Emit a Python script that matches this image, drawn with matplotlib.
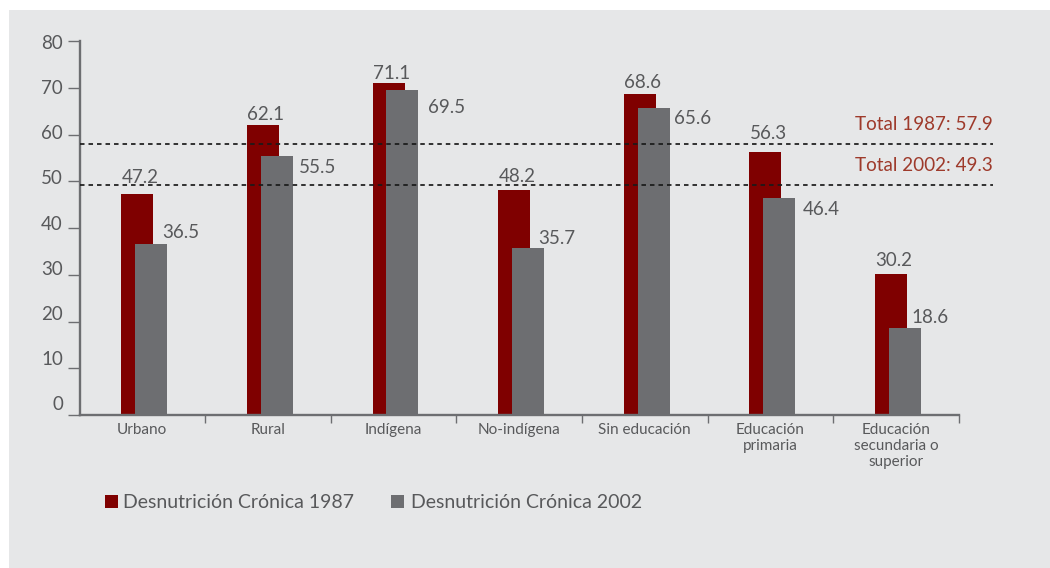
import matplotlib
matplotlib.use("Agg")
import matplotlib.pyplot as plt
from matplotlib.patches import Rectangle
import numpy as np

categories = ["Urbano", "Rural", "Indígena", "No-indígena", "Sin educación",
              "Educación\nprimaria", "Educación\nsecundaria o\nsuperior"]
series_names = ["Desnutrición Crónica 1987", "Desnutrición Crónica 2002"]
values_1987 = [47.2, 62.1, 71.1, 48.2, 68.6, 56.3, 30.2]
values_2002 = [36.5, 55.5, 69.5, 35.7, 65.6, 46.4, 18.6]
total_1987 = 57.9
total_2002 = 49.3
total_labels = ["Total 1987: 57.9", "Total 2002: 49.3"]
y_ticks = [0, 10, 20, 30, 40, 50, 60, 70, 80]

# label placement tweaks (pixels)
red_label_dy = [11.3, 4.3, 3.3, 7.3, 6.3, 12.3, 8.3]
gray_label_dy = [6.3, -17.7, -22.7, 4.3, -15.7, -16.7, 5.3]
gray_label_dx = [-5, 6, 10, -6, 4, 7, -10]

W, H = 1050, 568
DPI = 100
PX = 72.0 / DPI  # points per pixel

plt.rcParams['font.family'] = ['Lato', 'DejaVu Sans']
TEXT = '#58595b'
RED = '#7f0000'
GRAY = '#6d6e71'
BG = '#e6e7e8'
AXC = '#6d6e71'
TOTC = '#9e3a2b'

fig = plt.figure(figsize=(W / DPI, H / DPI), dpi=DPI, facecolor='white')
fig.add_artist(Rectangle((9 / W, 0), 1, 1 - 10 / H, transform=fig.transFigure,
                         facecolor=BG, edgecolor='none', zorder=-10))

ax_left, ax_right = 79.5, 994.0
ax_bottom, ax_top = 415.0, 41.0
ax = fig.add_axes([ax_left / W, (H - ax_bottom) / H,
                   (ax_right - ax_left) / W, (ax_bottom - ax_top) / H])
ax.set_facecolor('none')
ax.set_xlim(-0.5, 6.78)
ax.set_ylim(0, 80)

x = np.arange(len(categories))
bw = 0.255
red_off, gray_off = -0.04, 0.071
bars_r = ax.bar(x + red_off, values_1987, width=bw, color=RED, zorder=2)
bars_g = ax.bar(x + gray_off, values_2002, width=bw, color=GRAY, zorder=3)

# value labels
for i, (b, v) in enumerate(zip(bars_r, values_1987)):
    ax.annotate(f"{v:.1f}", xy=(b.get_x(), v), xytext=(0.5 * PX, red_label_dy[i] * PX),
                textcoords='offset points', ha='left', va='baseline',
                fontsize=13.5, color=TEXT, zorder=5)
for i, (b, v) in enumerate(zip(bars_g, values_2002)):
    ax.annotate(f"{v:.1f}", xy=(b.get_x() + b.get_width(), v),
                xytext=(gray_label_dx[i] * PX, gray_label_dy[i] * PX),
                textcoords='offset points', ha='left', va='baseline',
                fontsize=13.5, color=TEXT, zorder=5)

# total lines
x_end = 6.773
for tv, tl in zip([total_1987, total_2002], total_labels):
    ax.plot([-0.5, x_end], [tv, tv], color='#1a1a1a', lw=1.25,
            linestyle=(0, (2.6, 2.3)), zorder=4)
    ax.annotate(tl, xy=(x_end, tv), xytext=(0, 14 * PX), textcoords='offset points',
                ha='right', va='baseline', fontsize=13.6, color=TOTC)

# spines
for s in ['top', 'right']:
    ax.spines[s].set_visible(False)
ax.spines['left'].set_bounds(0, 80)
ax.spines['bottom'].set_bounds(-0.5, 6.5)
for s in ['left', 'bottom']:
    ax.spines[s].set_color(AXC)
    ax.spines[s].set_linewidth(1.7)

# y ticks: marks at values, labels drawn separately
ax.set_yticks(y_ticks)
ax.set_yticklabels([])
ax.tick_params(axis='y', length=12 * PX, width=1.0, color=AXC, direction='out')
for v in y_ticks:
    ypos = 2.567 + 0.9652 * v
    ax.annotate(str(v), xy=(0, ypos), xycoords=ax.get_yaxis_transform(),
                xytext=(-16.5 * PX, 0), textcoords='offset points',
                ha='right', va='center_baseline', fontsize=13.5, color=TEXT)

# x ticks
ax.set_xticks(x)
ax.set_xticklabels(categories, fontsize=11, color=TEXT, linespacing=1.15)
ax.tick_params(axis='x', which='major', length=0, pad=6.0)
ax.set_xticks(np.arange(0.5, 7.0, 1.0), minor=True)
ax.tick_params(axis='x', which='minor', length=8 * PX, width=1.0, color=AXC,
               direction='out')

# legend (manual)
leg_items = [(105, 123, RED, series_names[0]), (391, 411, GRAY, series_names[1])]
for sx, tx, col, name in leg_items:
    fig.add_artist(Rectangle((sx / W, (H - 508) / H), 13 / W, 13 / H,
                             transform=fig.transFigure, facecolor=col,
                             edgecolor='none'))
    fig.text(tx / W, (H - 501.5) / H, name, ha='left', va='center_baseline',
             fontsize=14, color=TEXT)

fig.savefig('out.png', dpi=DPI, facecolor=fig.get_facecolor())
